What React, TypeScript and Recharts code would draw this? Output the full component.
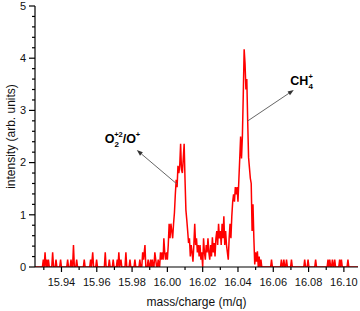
import { LineChart, Line, XAxis, YAxis, ReferenceLine } from "recharts";

// mass/charge (m/q) sample positions
const massCharge = [
  15.925, 15.9292, 15.9297, 15.9302, 15.9307, 15.9312, 15.9316, 15.9321, 15.9326, 15.9331,
  15.9345, 15.935, 15.9355, 15.9364, 15.9369, 15.9374, 15.939, 15.9395, 15.94, 15.943,
  15.9435, 15.944, 15.9449, 15.9454, 15.9459, 15.9463, 15.9468, 15.9473, 15.9481, 15.9486,
  15.9491, 15.9524, 15.9529, 15.9534, 15.956, 15.9565, 15.957, 15.9577, 15.9582, 15.9594,
  15.9599, 15.9604, 15.9643, 15.9648, 15.9653, 15.9666, 15.9671, 15.9676, 15.9688, 15.9693,
  15.9698, 15.9711, 15.9716, 15.972, 15.9725, 15.973, 15.9737, 15.9742, 15.976, 15.9765,
  15.977, 15.9783, 15.9788, 15.9793, 15.9811, 15.9816, 15.9821, 15.9839, 15.9844, 15.9849,
  15.9855, 15.986, 15.9865, 15.9873, 15.9878, 15.9886, 15.9891, 15.9896, 15.99, 15.9905,
  15.991, 15.9915, 15.992, 15.9924, 15.9929, 15.9934, 15.9939, 15.9943, 15.9948, 15.9953,
  15.9956, 15.9961, 15.9966, 15.9971, 15.9976, 15.998, 15.9985, 15.999, 15.9995, 16.0,
  16.0005, 16.001, 16.0015, 16.002, 16.0025, 16.003, 16.0035, 16.004, 16.0045, 16.005,
  16.0055, 16.006, 16.0065, 16.007, 16.0075, 16.008, 16.0085, 16.009, 16.0095, 16.01,
  16.0105, 16.011, 16.0115, 16.012, 16.0125, 16.013, 16.0135, 16.014, 16.0145, 16.015,
  16.0155, 16.016, 16.0165, 16.017, 16.0175, 16.018, 16.0185, 16.019, 16.0195, 16.02,
  16.0205, 16.021, 16.0215, 16.022, 16.0225, 16.023, 16.0235, 16.024, 16.0245, 16.025,
  16.0255, 16.026, 16.0265, 16.027, 16.0275, 16.028, 16.0285, 16.029, 16.0295, 16.03,
  16.0305, 16.031, 16.0315, 16.032, 16.0325, 16.033, 16.0335, 16.034, 16.0345, 16.035,
  16.0355, 16.036, 16.0365, 16.037, 16.0375, 16.038, 16.0385, 16.039, 16.0395, 16.04,
  16.0405, 16.041, 16.0415, 16.042, 16.0425, 16.043, 16.0435, 16.044, 16.0445, 16.045,
  16.0455, 16.046, 16.0465, 16.047, 16.0475, 16.048, 16.0485, 16.049, 16.0495, 16.05,
  16.0505, 16.051, 16.0515, 16.052, 16.0525, 16.053, 16.0535, 16.054,
  16.0585, 16.059, 16.0595, 16.0641, 16.0646, 16.0651, 16.0655, 16.066, 16.0665, 16.067,
  16.0675, 16.068, 16.0698, 16.0703, 16.0708, 16.0773, 16.0778, 16.0783, 16.0792, 16.0797,
  16.0802, 16.0835, 16.084, 16.0845, 16.0905, 16.091, 16.0915, 16.092, 16.0925, 16.093,
  16.0935, 16.094, 16.0943, 16.0948, 16.0953, 16.0971, 16.0976, 16.0981, 16.0986, 16.0991,
  16.1018, 16.1023, 16.1028, 16.108,
];

// intensity (arb. units), one per massCharge entry
const intensity = [
  0, 0, 0.14, 0, 0.28, 0, 0.14, 0, 0.14, 0,
  0, 0.28, 0, 0, 0.14, 0, 0, 0.14, 0, 0,
  0.14, 0, 0, 0.14, 0, 0, 0.42, 0, 0, 0.14,
  0, 0, 0.14, 0, 0, 0.14, 0, 0.28, 0, 0,
  0.14, 0, 0, 0.28, 0, 0, 0.14, 0, 0, 0.14,
  0, 0, 0.14, 0, 0.28, 0, 0.14, 0, 0, 0.28,
  0, 0, 0.14, 0, 0, 0.14, 0, 0, 0.14, 0,
  0, 0.28, 0.14, 0.42, 0, 0, 0.14, 0, 0, 0.14,
  0, 0.14, 0, 0, 0.28, 0.14, 0, 0, 0.14, 0,
  0, 0.28, 0.14, 0.28, 0.14, 0.55, 0.28, 0.14, 0.28, 0.14,
  0.42, 0.83, 0.55, 0.83, 0.69, 0.55, 0.83, 1.04, 1.39, 1.67,
  1.53, 1.94, 1.8, 1.94, 2.36, 1.86, 1.8, 2.08, 2.36, 1.67,
  1.09, 0.9, 0.69, 0.46, 0.55, 0.2, 0.42, 0.28, 0.1, 0.42,
  0.83, 0.42, 0.55, 0.28, 0.42, 0.2, 0.42, 0.14, 0.28, 0,
  0.55, 0.28, 0.14, 0.42, 0.28, 0.55, 0.28, 0.14, 0.42, 0.2,
  0.57, 0.28, 0.46, 0.2, 0.55, 0.69, 0.42, 0.83, 0.55, 0.69,
  0.42, 0.83, 0.55, 0.97, 0.42, 0.69, 0.42, 0.28, 0.14, 0.55,
  0.83, 0.55, 0.97, 1.25, 1.39, 1.25, 1.53, 1.39, 1.53, 1.25,
  1.67, 2.08, 2.5, 2.08, 2.5, 3.3, 4.17, 3.9, 3.4, 3.6,
  2.8, 2.1, 1.9, 1.7, 1.6, 0.69, 1.2, 0.55, 0.05, 0.28,
  0.1, 0.3, 0, 0.2, 0, 0.14, 0, 0,
  0, 0.14, 0, 0, 0.14, 0, 0, 0.14, 0, 0,
  0.14, 0, 0, 0.14, 0, 0, 0.14, 0, 0, 0.14,
  0, 0, 0.14, 0, 0, 0.14, 0, 0.14, 0, 0,
  0.14, 0, 0, 0.14, 0, 0, 0.14, 0, 0.14, 0,
  0, 0.14, 0, 0,
];

const xTicks = [
  15.93, 15.94, 15.95, 15.96, 15.97, 15.98, 15.99, 16.0, 16.01,
  16.02, 16.03, 16.04, 16.05, 16.06, 16.07, 16.08, 16.09, 16.1,
];
const yTicks = [
  0, 0.2, 0.4, 0.6, 0.8, 1, 1.2, 1.4, 1.6, 1.8, 2, 2.2, 2.4, 2.6, 2.8,
  3, 3.2, 3.4, 3.6, 3.8, 4, 4.2, 4.4, 4.6, 4.8, 5,
];

// annotation arrows: [from, to] as [m/q, intensity]
const o2Arrow = [[16.0054, 1.59], [15.9827, 2.24]];
const ch4Arrow = [[16.0456, 2.8], [16.0716, 3.39]];

const data = massCharge.map((mz, i) => ({ mz, intensity: intensity[i] }));

const FONT = "'Liberation Sans', Arial, sans-serif";

function XTick({ x, y, payload }: any) {
  const v = payload.value;
  const major = Math.round(v * 100) % 2 === 0;
  return (
    <g>
      <line x1={x} y1={y} x2={x} y2={y + (major ? 5 : 3)} stroke="#000" strokeWidth={1.2} />
      {major && (
        <text x={x} y={y + 19} textAnchor="middle" fontSize={11} fill="#111" fontFamily={FONT}>
          {v.toFixed(2)}
        </text>
      )}
    </g>
  );
}

function YTick({ x, y, payload }: any) {
  const v = payload.value;
  const major = Math.abs(v - Math.round(v)) < 1e-6;
  return (
    <g>
      <line x1={x - (major ? 6 : 3)} y1={y} x2={x} y2={y} stroke="#000" strokeWidth={1.2} />
      {major && (
        <text x={x - 9} y={y} dy="0.35em" textAnchor="end" fontSize={11} fill="#111" fontFamily={FONT}>
          {Math.round(v)}
        </text>
      )}
    </g>
  );
}

function arrowHead(x1: number, y1: number, x2: number, y2: number) {
  const a = Math.atan2(y2 - y1, x2 - x1);
  const len = 6;
  const w = 2.2;
  const bx = x2 - len * Math.cos(a);
  const by = y2 - len * Math.sin(a);
  const pts = `${x2},${y2} ${bx + w * Math.sin(a)},${by - w * Math.cos(a)} ${bx - w * Math.sin(a)},${by + w * Math.cos(a)}`;
  return { bx, by, pts };
}

const O2Shape = (p: any) => {
  const { x1, y1, x2, y2 } = p;
  const h = arrowHead(x1, y1, x2, y2);
  const tx = x2 - 32;
  const ty = y2 - 7;
  return (
    <g>
      <line x1={x1} y1={y1} x2={h.bx} y2={h.by} stroke="#666" strokeWidth={1} />
      <polygon points={h.pts} fill="#333" />
      <text fontFamily={FONT} fontWeight="bold" fill="#000">
        <tspan x={tx} y={ty} fontSize={12.5}>O</tspan>
        <tspan x={tx + 9.6} y={ty + 3.5} fontSize={8}>2</tspan>
        <tspan x={tx + 9.4} y={ty - 6} fontSize={7.5}>+2</tspan>
        <tspan x={tx + 18} y={ty} fontSize={12.5}>/O</tspan>
        <tspan x={tx + 31} y={ty - 6} fontSize={7.5}>+</tspan>
      </text>
    </g>
  );
};

const CH4Shape = (p: any) => {
  const { x1, y1, x2, y2 } = p;
  const h = arrowHead(x1, y1, x2, y2);
  const tx = x2 - 3.5;
  const ty = y2 - 5;
  return (
    <g>
      <line x1={x1} y1={y1} x2={h.bx} y2={h.by} stroke="#666" strokeWidth={1} />
      <polygon points={h.pts} fill="#333" />
      <text fontFamily={FONT} fontWeight="bold" fill="#000">
        <tspan x={tx} y={ty} fontSize={12.5}>CH</tspan>
        <tspan x={tx + 18.2} y={ty + 3.5} fontSize={8}>4</tspan>
        <tspan x={tx + 18.2} y={ty - 6} fontSize={7.5}>+</tspan>
      </text>
    </g>
  );
};

const XTitle = ({ viewBox }: any) => (
  <text x={viewBox.x + viewBox.width / 2} y={viewBox.y + 39} textAnchor="middle" fontSize={12} fill="#111" fontFamily={FONT}>
    mass/charge (m/q)
  </text>
);

const YTitle = ({ viewBox }: any) => (
  <text
    transform="rotate(-90)"
    x={-(viewBox.y + viewBox.height / 2)}
    y={viewBox.x + 15}
    textAnchor="middle"
    fontSize={12}
    fill="#111"
    fontFamily={FONT}
  >
    intensity (arb. units)
  </text>
);

export default function App() {
  return (
    <div style={{ position: "absolute", left: 0, top: 0, width: 360, height: 311, background: "#fff" }}>
      <LineChart width={360} height={311} data={data} margin={{ top: 6, right: 2, bottom: 0, left: 0 }}>
        <XAxis
          dataKey="mz"
          type="number"
          domain={[15.925, 16.108]}
          ticks={xTicks}
          interval={0}
          height={44}
          tickSize={0}
          tickMargin={0}
          tickLine={false}
          tick={<XTick />}
          axisLine={{ stroke: "#000", strokeWidth: 1.2 }}
          allowDataOverflow
          label={XTitle}
        />
        <YAxis
          type="number"
          domain={[0, 5]}
          ticks={yTicks}
          interval={0}
          width={35}
          tickSize={0}
          tickMargin={0}
          tickLine={false}
          tick={<YTick />}
          axisLine={{ stroke: "#000", strokeWidth: 1.2 }}
          allowDataOverflow
          label={YTitle}
        />
        <Line
          type="linear"
          dataKey="intensity"
          stroke="#ff0000"
          strokeWidth={1.5}
          dot={false}
          isAnimationActive={false}
        />
        <ReferenceLine
          segment={[
            { x: o2Arrow[0][0], y: o2Arrow[0][1] },
            { x: o2Arrow[1][0], y: o2Arrow[1][1] },
          ]}
          shape={O2Shape}
        />
        <ReferenceLine
          segment={[
            { x: ch4Arrow[0][0], y: ch4Arrow[0][1] },
            { x: ch4Arrow[1][0], y: ch4Arrow[1][1] },
          ]}
          shape={CH4Shape}
        />
      </LineChart>
    </div>
  );
}
